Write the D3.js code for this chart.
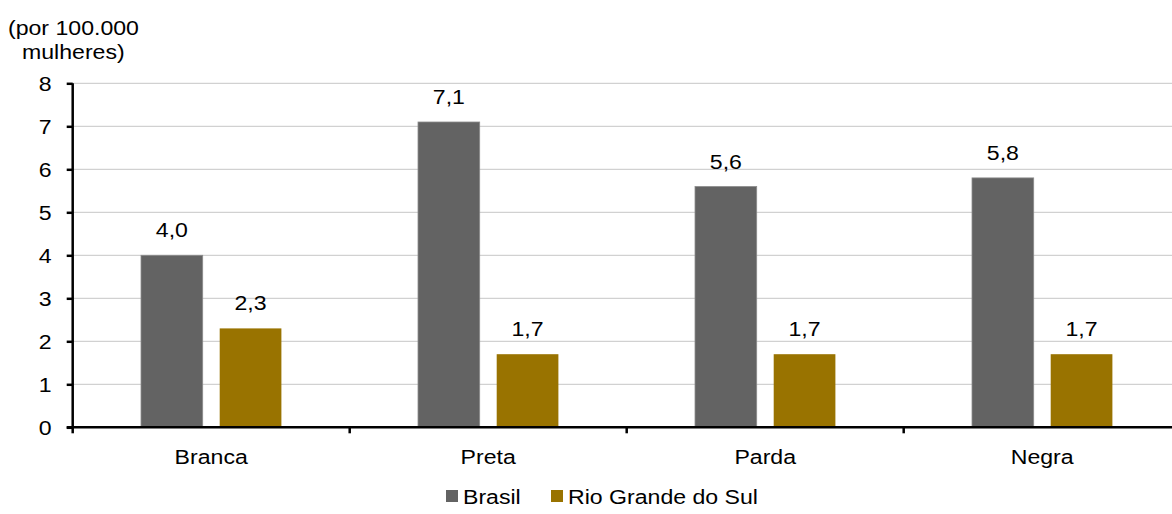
<!DOCTYPE html>
<html>
<head>
<meta charset="utf-8">
<script src="https://cdn.jsdelivr.net/npm/d3@7"></script>
<style>
  html, body { margin: 0; padding: 0; background: #fff; }
  svg { display: block; }
  text { font-family: "Liberation Sans", Arial, sans-serif; fill: #000; }
</style>
</head>
<body>
<svg id="chart" width="1172" height="514"></svg>
<script>
// Feminicide rate by race/colour (per 100,000 women)
const categories = ["Branca", "Preta", "Parda", "Negra"];
const seriesNames = ["Brasil", "Rio Grande do Sul"];
const brasil = [4.0, 7.1, 5.6, 5.8];
const rioGrandeDoSul = [2.3, 1.7, 1.7, 1.7];
const yTicks = [0, 1, 2, 3, 4, 5, 6, 7, 8];
const colors = ["#636363", "#997300"];

(function draw() {
  const seriesValues = [brasil, rioGrandeDoSul];
  const rows = categories.map((c, i) => ({
    category: c,
    values: seriesNames.map((s, j) => ({ series: s, value: seriesValues[j][i], idx: j }))
  }));

  const svg = d3.select("#chart");
  const W = 1172;
  const plotLeft = 72.7, plotRight = 1180.7, plotTop = 83.3, plotBottom = 427.3;
  const fontSize = 21;
  const sx = 1.1; // horizontal text stretch

  const fmt = v => d3.format(".1f")(v).replace(".", ",");

  const x0 = d3.scaleBand().domain(categories).range([plotLeft, plotRight]).padding(0);
  const x1 = d3.scaleBand().domain(seriesNames).range([0, x0.bandwidth()])
    .paddingInner(0.216).paddingOuter(0.868);
  const y = d3.scaleLinear().domain([0, 8]).range([plotBottom, plotTop]);

  // stretched text helper
  function label(g, x, yy, txt, anchor) {
    return g.append("text")
      .attr("transform", `translate(${x},${yy}) scale(${sx},1)`)
      .attr("text-anchor", anchor || "middle")
      .attr("font-size", fontSize)
      .text(txt);
  }

  // gridlines
  svg.append("g")
    .selectAll("line")
    .data(yTicks.filter(t => t > 0))
    .join("line")
    .attr("x1", plotLeft).attr("x2", W)
    .attr("y1", d => y(d)).attr("y2", d => y(d))
    .attr("stroke", "#c6c6c6").attr("stroke-width", 1);

  // bars
  const groups = svg.append("g")
    .selectAll("g")
    .data(rows)
    .join("g")
    .attr("transform", d => `translate(${x0(d.category)},0)`);

  groups.selectAll("rect")
    .data(d => d.values)
    .join("rect")
    .attr("x", d => x1(d.series))
    .attr("width", x1.bandwidth())
    .attr("y", d => y(d.value))
    .attr("height", d => y(0) - y(d.value))
    .attr("fill", d => colors[d.idx])
    .attr("stroke", d => d.idx === 0 ? "#8c8c8c" : "none")
    .attr("stroke-width", 0.8);

  // value labels
  groups.each(function (d) {
    const g = d3.select(this);
    d.values.forEach(v => {
      label(g, x1(v.series) + x1.bandwidth() / 2, y(v.value) - 18, fmt(v.value));
    });
  });

  // y axis
  const yAxis = d3.axisLeft(y).tickValues(yTicks).tickSize(6).tickPadding(14)
    .tickFormat(d3.format("d"));
  const yg = svg.append("g").attr("transform", `translate(${plotLeft},0)`).call(yAxis);
  yg.select(".domain").attr("stroke", "#000").attr("stroke-width", 2.5)
    .attr("d", `M0,${plotTop}V${plotBottom}`);
  yg.selectAll(".tick line").attr("stroke", "#000").attr("stroke-width", 2.5);
  yg.selectAll(".tick text").remove();
  yTicks.forEach(t => {
    label(svg, plotLeft - 21, y(t) + 7.5, String(t), "end");
  });

  // x axis
  const boundaries = categories.map(c => x0(c));
  svg.append("line")
    .attr("x1", plotLeft - 6).attr("x2", W)
    .attr("y1", plotBottom).attr("y2", plotBottom)
    .attr("stroke", "#000").attr("stroke-width", 2.5);
  svg.append("g").selectAll("line")
    .data(boundaries)
    .join("line")
    .attr("x1", d => d).attr("x2", d => d)
    .attr("y1", plotBottom).attr("y2", plotBottom + 6)
    .attr("stroke", "#000").attr("stroke-width", 2.5);
  categories.forEach(c => {
    label(svg, x0(c) + x0.bandwidth() / 2, 464, c);
  });

  // unit title
  label(svg, 8, 35, "(por 100.000", "start");
  label(svg, 22, 59, "mulheres)", "start");

  // legend
  const legendItems = [
    { name: seriesNames[0], sq: 446, tx: 463 },
    { name: seriesNames[1], sq: 551, tx: 568 }
  ];
  legendItems.forEach((it, i) => {
    svg.append("rect")
      .attr("x", it.sq).attr("y", 490).attr("width", 12).attr("height", 12)
      .attr("fill", colors[i]);
    label(svg, it.tx, 504, it.name, "start");
  });
})();
</script>
</body>
</html>
